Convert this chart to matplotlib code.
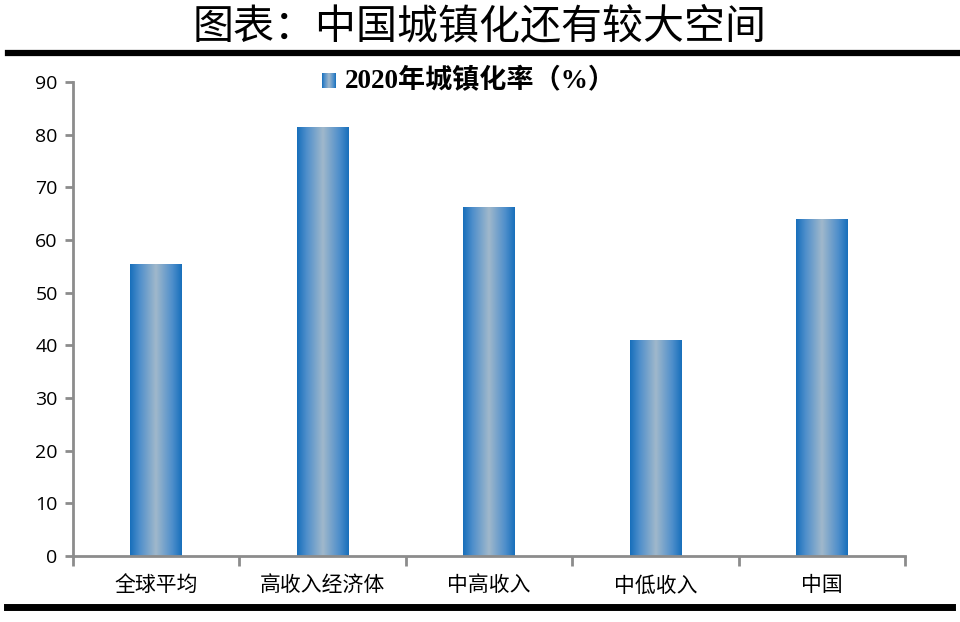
import numpy as np
import matplotlib
matplotlib.use('Agg')
from matplotlib import pyplot as plt
from matplotlib.colors import LinearSegmentedColormap
from matplotlib.lines import Line2D

categories = ['全球平均', '高收入经济体', '中高收入', '中低收入', '中国']
urban_rate = [55.4, 81.5, 66.3, 41.0, 64.0]
yticks = [0, 10, 20, 30, 40, 50, 60, 70, 80, 90]
title = '图表：中国城镇化还有较大空间'
legend_label = '2020年城镇化率（%）'

plt.rcParams['font.family'] = ['Open Sans', 'Noto Sans CJK SC', 'DejaVu Sans']

# edge dark blue -> grey-blue middle -> dark blue edge
grad = LinearSegmentedColormap.from_list(
    'bar_grad',
    [(0.0, '#176fbb'), (0.18, '#4d8ecb'), (0.5, '#a0b8cb'),
     (0.82, '#4d8ecb'), (1.0, '#176fbb')])
gradient = np.linspace(0, 1, 256).reshape(1, -1)

fig = plt.figure(figsize=(9.6, 6.22), dpi=100)
ax = fig.add_axes([73 / 960, 1 - 556 / 622, (905 - 73) / 960, (556 - 82) / 622])

x = np.arange(len(categories))
width = 0.31
bars = ax.bar(x, urban_rate, width=width, color='none', edgecolor='none', zorder=2)
for b in bars:
    x0, y0 = b.get_x(), b.get_y()
    w, h = b.get_width(), b.get_height()
    im = ax.imshow(gradient, cmap=grad, aspect='auto',
                   extent=(x0, x0 + w, y0, y0 + h), zorder=2)
    im.set_clip_path(b)

ax.set_xlim(-0.5, len(categories) - 0.5)
ax.set_ylim(0, 90)
ax.set_yticks(yticks)
ax.tick_params(axis='y', labelsize=14, length=6, width=2, color='#8c8c8c',
               direction='out', pad=5)

# category boundary ticks on the x axis
ax.set_xticks(np.arange(-0.5, len(categories), 1.0))
ax.set_xticklabels([])
ax.tick_params(axis='x', length=7, width=2, color='#8c8c8c', direction='out')
ax.set_xticks(x, minor=True)
ax.set_xticklabels(categories, minor=True)
ax.tick_params(axis='x', which='minor', length=0, pad=14, labelsize=15)

for side in ['top', 'right']:
    ax.spines[side].set_visible(False)
for side in ['left', 'bottom']:
    ax.spines[side].set_color('#8c8c8c')
    ax.spines[side].set_linewidth(2)

# title and thick rules
fig.text(0.5, 1 - 27 / 622, title, ha='center', va='center', fontsize=29.5,
         family=['Noto Sans CJK SC'], fontweight='light')
fig.add_artist(Line2D([8 / 960, 1.0], [1 - 53 / 622] * 2, color='black', lw=4.5))
fig.add_artist(Line2D([7 / 960, 952 / 960], [1 - 607 / 622] * 2, color='black', lw=5))

# legend: gradient square + bold label
lax = fig.add_axes([322 / 960, 1 - 88 / 622, 14 / 960, 15 / 622])
lax.imshow(gradient, cmap=grad, aspect='auto', extent=(0, 1, 0, 1))
lax.axis('off')
fig.text(345 / 960, 1 - 81 / 622, legend_label, ha='left', va='center',
         fontsize=19.5, fontweight='bold',
         family=['Liberation Serif', 'Noto Sans CJK SC'])

fig.savefig('out.png', dpi=100)
